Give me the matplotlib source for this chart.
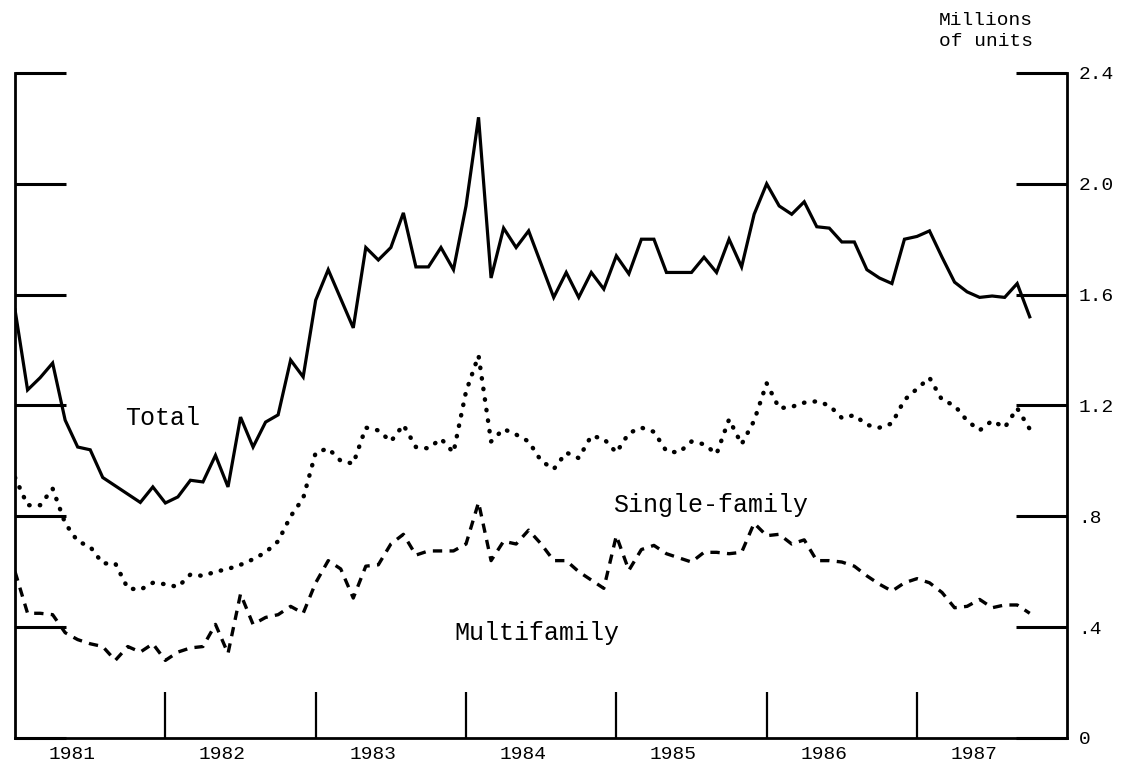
import matplotlib
matplotlib.use("Agg")
import matplotlib.pyplot as plt
import numpy as np

# monthly housing starts, millions of units, Jan 1981 onward
total = [1.545, 1.256, 1.30, 1.353, 1.147, 1.05, 1.04, 0.94, 0.91, 0.88, 0.85, 0.906,
         0.848, 0.87, 0.93, 0.924, 1.02, 0.906, 1.158, 1.05, 1.14, 1.166, 1.364, 1.303,
         1.58, 1.69, 1.585, 1.48, 1.77, 1.725, 1.77, 1.895, 1.70, 1.70, 1.77, 1.69,
         1.92, 2.24, 1.66, 1.84, 1.77, 1.83, 1.71, 1.59, 1.68, 1.59, 1.68, 1.62,
         1.74, 1.675, 1.80, 1.80, 1.68, 1.68, 1.68, 1.735, 1.68, 1.80, 1.70, 1.89,
         2.00, 1.92, 1.89, 1.935, 1.845, 1.84, 1.79, 1.79, 1.69, 1.66, 1.64, 1.80,
         1.81, 1.83, 1.735, 1.645, 1.61, 1.59, 1.595, 1.59, 1.64, 1.52]

single = [0.94, 0.84, 0.84, 0.90, 0.775, 0.71, 0.69, 0.63, 0.63, 0.54, 0.535, 0.56,
          0.555, 0.545, 0.59, 0.585, 0.60, 0.61, 0.625, 0.645, 0.67, 0.71, 0.80, 0.865,
          1.03, 1.045, 1.00, 0.99, 1.12, 1.11, 1.07, 1.13, 1.05, 1.045, 1.08, 1.03,
          1.25, 1.38, 1.07, 1.115, 1.095, 1.07, 1.00, 0.97, 1.03, 1.01, 1.09, 1.08,
          1.03, 1.10, 1.12, 1.105, 1.035, 1.03, 1.07, 1.06, 1.025, 1.15, 1.06, 1.145,
          1.28, 1.19, 1.195, 1.21, 1.215, 1.20, 1.155, 1.165, 1.13, 1.12, 1.135, 1.22,
          1.26, 1.30, 1.22, 1.20, 1.145, 1.11, 1.145, 1.12, 1.19, 1.115]

multi = [0.60, 0.45, 0.45, 0.445, 0.38, 0.355, 0.34, 0.33, 0.28, 0.33, 0.31, 0.34,
         0.28, 0.31, 0.325, 0.33, 0.41, 0.305, 0.52, 0.41, 0.435, 0.445, 0.475, 0.45,
         0.56, 0.64, 0.61, 0.505, 0.62, 0.625, 0.70, 0.735, 0.66, 0.675, 0.675, 0.675,
         0.70, 0.85, 0.64, 0.71, 0.70, 0.75, 0.70, 0.64, 0.64, 0.60, 0.57, 0.54,
         0.73, 0.605, 0.68, 0.695, 0.665, 0.65, 0.635, 0.67, 0.67, 0.665, 0.67, 0.775,
         0.73, 0.735, 0.70, 0.715, 0.64, 0.64, 0.635, 0.62, 0.585, 0.555, 0.53, 0.56,
         0.575, 0.56, 0.525, 0.47, 0.475, 0.50, 0.47, 0.48, 0.48, 0.45]

years = [1981, 1982, 1983, 1984, 1985, 1986, 1987]
y_ticks = [0, 0.4, 0.8, 1.2, 1.6, 2.0, 2.4]
y_labels = ["0", ".4", ".8", "1.2", "1.6", "2.0", "2.4"]

t = 1981 + np.arange(len(total)) / 12

plt.rcParams['font.family'] = ['Liberation Mono', 'DejaVu Sans Mono']

fig = plt.figure(figsize=(11.23, 7.76), dpi=100)
ax = fig.add_axes([0.0134, 0.049, 0.937, 0.857])

ax.plot(t, total, color='black', lw=2.3, solid_joinstyle='miter')
ax.plot(t, single, color='black', lw=3.2, linestyle=(0, (0.1, 2.3)),
        dash_capstyle='round')
ax.plot(t, multi, color='black', lw=2.4, linestyle=(0, (2.8, 2.2)),
        dash_capstyle='butt')

ax.set_xlim(1981, 1988)
ax.set_ylim(0, 2.4)

ax.spines['top'].set_visible(False)
for s in ['left', 'right', 'bottom']:
    ax.spines[s].set_linewidth(2)

ax.set_yticks(y_ticks)
ax.set_yticklabels(y_labels)
ax.tick_params(axis='y', left=True, right=True, labelleft=False, labelright=True,
               direction='in', length=37, width=2.2, labelsize=14, pad=8)

ax.set_xticks(years[1:])
ax.set_xticklabels([])
ax.set_xticks([y + 0.38 for y in years], minor=True)
ax.set_xticklabels([str(y) for y in years], minor=True)
ax.tick_params(axis='x', which='major', direction='in', length=33, width=1.6)
ax.tick_params(axis='x', which='minor', length=0, labelsize=14, pad=6)

ax.text(1981.98, 1.155, "Total", fontsize=18, ha='center', va='center')
ax.text(1985.63, 0.84, "Single-family", fontsize=18, ha='center', va='center')
ax.text(1984.47, 0.38, "Multifamily", fontsize=18, ha='center', va='center')

fig.text(0.878, 0.985, "Millions\nof units", fontsize=14, ha='center', va='top',
         linespacing=1.35)

fig.savefig("out.png", dpi=100)
